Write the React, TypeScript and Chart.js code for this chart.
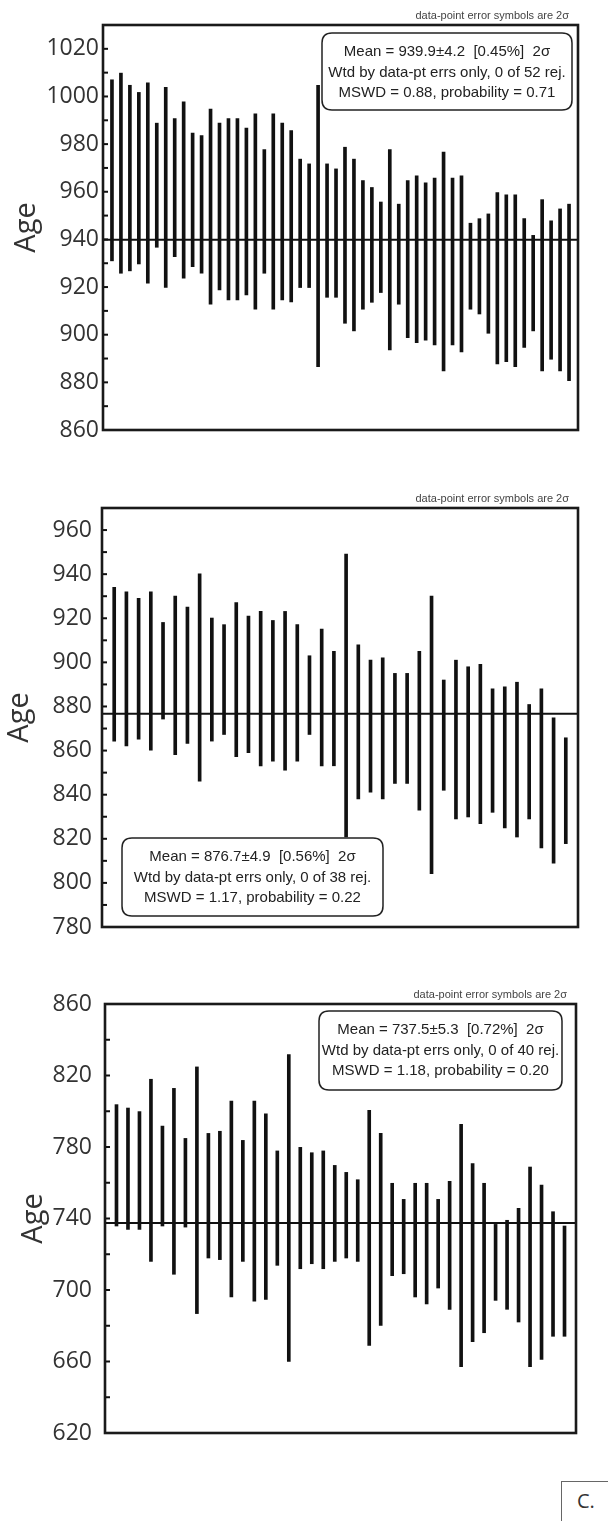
import React, { useEffect, useRef } from "react";
import { Chart, registerables } from "chart.js";

Chart.register(...registerables);

// ---------- Panel 1 data ----------
const p1High = [1007.0, 1009.8, 1004.7, 1001.7, 1005.7, 988.8, 1003.8, 990.7, 997.7, 984.6, 983.6, 994.7, 988.8, 990.7, 990.7, 986.7, 992.7, 977.7, 992.7, 988.8, 985.7, 973.7, 971.7, 1004.7, 971.7, 969.6, 978.7, 973.7, 964.7, 961.8, 955.7, 977.7, 954.8, 964.7, 966.7, 963.7, 965.7, 976.7, 965.7, 966.7, 946.8, 948.7, 950.7, 959.7, 958.7, 958.7, 948.7, 941.7, 956.7, 947.8, 952.8, 954.8];
const p1Low = [931.0, 925.8, 926.8, 929.7, 921.6, 936.7, 919.8, 932.8, 923.7, 928.6, 925.8, 912.8, 918.8, 914.6, 914.6, 916.7, 910.7, 925.8, 910.7, 914.6, 913.8, 919.8, 919.8, 886.6, 915.7, 915.7, 904.8, 901.6, 910.7, 913.6, 917.7, 893.6, 912.8, 898.8, 896.7, 897.7, 895.7, 884.8, 895.7, 892.8, 910.7, 908.7, 900.6, 887.7, 888.7, 886.6, 894.7, 901.6, 884.8, 889.7, 884.8, 880.7];
const p1Mean = 939.9;
const p1Ticks = [860, 880, 900, 920, 940, 960, 980, 1000, 1020];
const p1Range = [860, 1030];
const p1Lines = ["Mean = 939.9±4.2  [0.45%]  2σ", "Wtd by data-pt errs only, 0 of 52 rej.", "MSWD = 0.88, probability = 0.71"];

// ---------- Panel 2 data ----------
const p2High = [934.0, 932.0, 929.0, 932.0, 918.1, 930.1, 925.1, 940.1, 920.1, 917.1, 927.1, 921.0, 923.1, 919.0, 923.1, 917.1, 903.0, 915.1, 905.0, 949.1, 908.0, 901.0, 902.1, 895.0, 895.0, 905.0, 930.1, 892.0, 901.0, 898.0, 899.1, 888.0, 888.9, 891.0, 880.9, 888.0, 874.9, 865.8];
const p2Low = [864.3, 862.1, 865.2, 860.2, 874.3, 858.2, 863.2, 846.1, 864.3, 867.3, 857.2, 859.1, 853.1, 855.2, 851.1, 855.2, 867.3, 853.1, 853.1, 820.8, 838.1, 841.1, 838.1, 845.1, 845.1, 833.0, 804.2, 842.0, 829.0, 829.9, 826.9, 832.0, 824.9, 820.8, 829.0, 815.9, 809.0, 817.8];
const p2Mean = 876.7;
const p2Ticks = [780, 800, 820, 840, 860, 880, 900, 920, 940, 960];
const p2Range = [780, 970];
const p2Lines = ["Mean = 876.7±4.9  [0.56%]  2σ", "Wtd by data-pt errs only, 0 of 38 rej.", "MSWD = 1.17, probability = 0.22"];

// ---------- Panel 3 data ----------
const p3High = [803.7, 801.8, 799.8, 817.9, 791.7, 812.8, 784.8, 824.8, 787.6, 788.8, 805.7, 783.7, 805.7, 798.6, 777.8, 831.7, 779.8, 776.8, 777.8, 769.7, 765.8, 761.7, 800.5, 787.6, 759.7, 750.7, 759.7, 759.7, 750.7, 760.8, 792.7, 770.7, 759.7, 736.7, 739.0, 745.7, 768.8, 758.7, 743.8, 735.8];
const p3Low = [735.8, 733.9, 733.9, 716.0, 735.8, 708.8, 735.2, 686.8, 717.9, 717.0, 696.1, 716.0, 693.8, 694.8, 713.8, 660.1, 711.9, 714.7, 711.9, 716.0, 717.9, 716.0, 669.0, 680.2, 708.0, 709.1, 696.1, 692.2, 701.1, 689.2, 657.1, 671.1, 676.1, 694.2, 689.2, 682.1, 657.1, 661.2, 674.1, 674.1];
const p3Mean = 737.5;
const p3Ticks = [620, 660, 700, 740, 780, 820, 860];
const p3Range = [620, 860];
const p3Lines = ["Mean = 737.5±5.3  [0.72%]  2σ", "Wtd by data-pt errs only, 0 of 40 rej.", "MSWD = 1.18, probability = 0.20"];

const yTitle = "Age";
const noteText = "data-point error symbols are 2σ";
const panelTag = "C.";

type PanelCfg = {
  high: number[];
  low: number[];
  mean: number;
  ticks: number[];
  range: number[];
  minorStep: number;
  lines: string[];
  top: number;
  height: number;
  padTop: number;
  padBottom: number;
  padRight: number;
  axisWidth: number;
  labelPad: number;
  titlePad: number;
  box: { x: number; y: number; w: number; h: number };
};

const panels: PanelCfg[] = [
  {
    high: p1High, low: p1Low, mean: p1Mean, ticks: p1Ticks, range: p1Range, minorStep: 10, lines: p1Lines,
    top: 0, height: 470, padTop: 25, padBottom: 40, padRight: 30, axisWidth: 103, labelPad: 4, titlePad: 9,
    box: { x: 219, y: 8, w: 250, h: 77 },
  },
  {
    high: p2High, low: p2Low, mean: p2Mean, ticks: p2Ticks, range: p2Range, minorStep: 10, lines: p2Lines,
    top: 470, height: 495, padTop: 38, padBottom: 38, padRight: 30, axisWidth: 102, labelPad: 10, titlePad: 2,
    box: { x: 20, y: 330, w: 261, h: 78 },
  },
  {
    high: p3High, low: p3Low, mean: p3Mean, ticks: p3Ticks, range: p3Range, minorStep: 20, lines: p3Lines,
    top: 965, height: 505, padTop: 39, padBottom: 37, padRight: 32, axisWidth: 105, labelPad: 13, titlePad: 16,
    box: { x: 214, y: 7, w: 243, h: 79 },
  },
];

function roundRect(ctx: CanvasRenderingContext2D, x: number, y: number, w: number, h: number, r: number) {
  ctx.beginPath();
  ctx.moveTo(x + r, y);
  ctx.lineTo(x + w - r, y);
  ctx.quadraticCurveTo(x + w, y, x + w, y + r);
  ctx.lineTo(x + w, y + h - r);
  ctx.quadraticCurveTo(x + w, y + h, x + w - r, y + h);
  ctx.lineTo(x + r, y + h);
  ctx.quadraticCurveTo(x, y + h, x, y + h - r);
  ctx.lineTo(x, y + r);
  ctx.quadraticCurveTo(x, y, x + r, y);
  ctx.closePath();
}

function PanelChart({ cfg }: { cfg: PanelCfg }) {
  const ref = useRef<HTMLCanvasElement>(null);
  useEffect(() => {
    const n = cfg.low.length;
    const data = cfg.low.map((lo, i) => ({ x: i + 1, y: [lo, cfg.high[i]] }));
    const decor = {
      id: "decor",
      afterDatasetsDraw(chart: any) {
        const { ctx, chartArea } = chart;
        const ys = chart.scales.y;
        const { left, right, top, bottom } = chartArea;
        ctx.save();
        // mean line
        const my = ys.getPixelForValue(cfg.mean);
        ctx.strokeStyle = "#111";
        ctx.lineWidth = 2;
        ctx.beginPath();
        ctx.moveTo(left, my);
        ctx.lineTo(right, my);
        ctx.stroke();
        // inward ticks
        ctx.lineWidth = 2;
        for (let v = cfg.range[0] + cfg.minorStep; v < cfg.range[1]; v += cfg.minorStep) {
          const ty = ys.getPixelForValue(v);
          ctx.beginPath();
          ctx.moveTo(left, ty);
          ctx.lineTo(left + 5, ty);
          ctx.stroke();
        }
        // frame
        ctx.lineWidth = 2.6;
        ctx.strokeStyle = "#1a1a1a";
        ctx.strokeRect(left, top, right - left, bottom - top);
        // stats box
        const b = cfg.box;
        const bx = left + b.x;
        const by = top + b.y;
        roundRect(ctx, bx, by, b.w, b.h, 10);
        ctx.fillStyle = "#fff";
        ctx.fill();
        ctx.lineWidth = 1.5;
        ctx.strokeStyle = "#222";
        ctx.stroke();
        ctx.fillStyle = "#222";
        ctx.font = "15px 'Liberation Sans', Arial, sans-serif";
        ctx.textAlign = "center";
        ctx.textBaseline = "middle";
        cfg.lines.forEach((t, i) => {
          ctx.fillText(t, bx + b.w / 2, by + 19 + i * 20.5);
        });
        // note text
        ctx.fillStyle = "#444";
        ctx.font = "11px 'Liberation Sans', Arial, sans-serif";
        ctx.textAlign = "right";
        ctx.textBaseline = "middle";
        ctx.fillText(noteText, right - 9, top - 9);
        ctx.restore();
      },
    };
    const chart = new Chart(ref.current as HTMLCanvasElement, {
      type: "bar",
      data: {
        datasets: [
          {
            data: data as any,
            backgroundColor: "#111",
            borderWidth: 0,
            barThickness: 3,
            grouped: false,
          } as any,
        ],
      },
      options: {
        animation: false,
        responsive: false,
        maintainAspectRatio: false,
        events: [],
        layout: { padding: { left: 0, right: cfg.padRight, top: cfg.padTop, bottom: cfg.padBottom } },
        plugins: { legend: { display: false }, tooltip: { enabled: false } },
        scales: {
          x: { type: "linear", min: 0, max: n + 1, offset: false, display: false },
          y: {
            type: "linear",
            min: cfg.range[0],
            max: cfg.range[1],
            afterFit: (s: any) => {
              s.width = cfg.axisWidth;
            },
            afterBuildTicks: (s: any) => {
              s.ticks = cfg.ticks.map((v) => ({ value: v }));
            },
            grid: { display: false, drawTicks: false },
            border: { display: false },
            ticks: {
              padding: cfg.labelPad,
              color: "#333",
              font: { family: "'Open Sans', sans-serif", size: 23 },
              autoSkip: false,
              callback: (v: any) => String(v),
            },
            title: {
              display: true,
              text: yTitle,
              color: "#333",
              font: { family: "'Open Sans', sans-serif", size: 29 },
              padding: { top: cfg.titlePad, bottom: 0 },
            },
          },
        },
      } as any,
      plugins: [decor],
    });
    return () => chart.destroy();
  }, [cfg]);
  return (
    <canvas
      ref={ref}
      width={608}
      height={cfg.height}
      style={{ position: "absolute", left: 0, top: cfg.top, width: 608, height: cfg.height, display: "block" }}
    />
  );
}

export default function App() {
  return (
    <div style={{ position: "fixed", left: 0, top: 0, width: 608, height: 1521, overflow: "hidden", background: "#fff" }}>
      {panels.map((p, i) => (
        <PanelChart key={i} cfg={p} />
      ))}
      <div
        style={{
          position: "absolute",
          left: 561,
          top: 1481,
          width: 60,
          height: 60,
          border: "1px solid #666",
          boxSizing: "border-box",
        }}
      >
        <span
          style={{
            position: "absolute",
            left: 15,
            top: 7,
            fontFamily: "'Open Sans', sans-serif",
            fontSize: 20,
            color: "#333",
            lineHeight: "24px",
          }}
        >
          {panelTag}
        </span>
      </div>
    </div>
  );
}
